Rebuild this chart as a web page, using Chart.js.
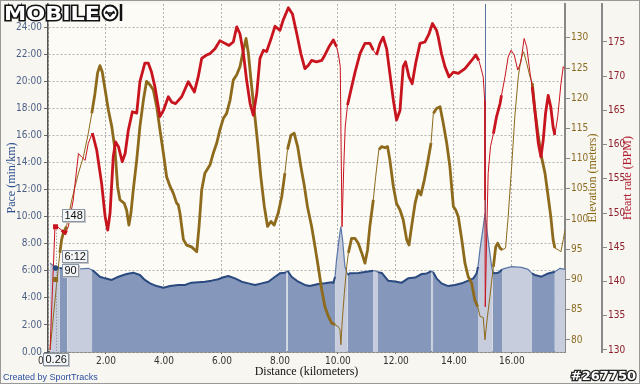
<!DOCTYPE html>
<html>
<head>
<meta charset="utf-8">
<script src="https://cdn.jsdelivr.net/npm/chart.js@4.4.1/dist/chart.umd.min.js"></script>
<style>
html, body { margin: 0; padding: 0; background: #f7f6f1; }
</style>
</head>
<body>
<canvas id="chartRecorrido" width="640" height="384"></canvas>
<script>
// Datos (distancia en km)
const hrKm = [0.07,0.24,0.30,0.47,0.59,0.64,0.70,0.87,1.05,1.16,1.28,1.39,1.53,1.68,1.85,1.97,2.06,2.14,2.25,2.33,2.43,2.56,2.66,2.77,2.91,3.06,3.17,3.34,3.46,3.57,3.69,3.86,3.98,4.15,4.27,4.40,4.61,4.84,5.05,5.18,5.30,5.47,5.59,5.76,5.93,6.10,6.24,6.39,6.51,6.62,6.74,6.85,6.97,7.08,7.20,7.31,7.43,7.54,7.71,7.83,8.00,8.11,8.29,8.43,8.58,8.72,8.86,8.98,9.09,9.26,9.44,9.55,9.69,9.84,9.95,10.01,10.08,10.11,10.14,10.20,10.25,10.33,10.47,10.59,10.76,10.93,11.10,11.22,11.33,11.45,11.56,11.68,11.79,11.91,12.02,12.14,12.25,12.33,12.45,12.56,12.68,12.83,13.00,13.14,13.26,13.40,13.46,13.57,13.69,13.83,13.98,14.15,14.38,14.61,14.75,14.86,14.95,15.01,15.06,15.07,15.08,15.13,15.18,15.26,15.36,15.47,15.59,15.64,15.76,15.87,15.97,16.08,16.20,16.31,16.42,16.51,16.62,16.70,16.79,16.91,17.00,17.08,17.16,17.25,17.34,17.42,17.48,17.58,17.69,17.77,17.83];
const hrBpm = [130,148.0,148.1,147.5,147.0,147.5,148.0,151.9,158.7,158.2,157.7,160.2,161.7,159.2,154.3,149.5,147.5,150.0,158.2,160.4,159.7,157.5,158.7,162.1,164.8,164.6,169.2,171.9,171.9,170.6,168.4,164.1,165.0,167.0,166.2,166.0,167.0,169.2,167.7,169.9,172.6,173.1,173.3,174.0,175.2,174.8,174.5,175.0,177.2,176.2,173.3,169.4,166.0,164.3,167.5,172.6,173.8,173.6,175.7,177.3,176.7,178.2,180.0,179.1,176.2,173.3,171.1,171.6,172.3,172.1,172.3,173.1,174.3,175.3,174.3,173.3,171.4,159.2,148.0,156.8,162.6,165.8,168.4,170.6,173.3,174.8,174.8,173.8,173.1,174.8,175.7,174.0,170.4,166.5,163.6,165.0,171.4,172.1,169.9,168.9,171.9,174.8,175.0,176.2,177.7,176.7,175.7,173.3,171.4,169.9,170.6,170.4,171.1,172.3,173.1,172.3,170.9,169.9,166.5,151.9,136.3,147.0,155.8,159.7,161.6,164.1,166.0,167.2,169.9,172.8,173.8,173.1,170.9,172.1,175.5,174.3,170.6,168.4,165.0,160.2,158.2,160.7,164.6,167.2,165.5,162.6,161.4,164.1,168.9,171.4,171.1];

const eleKm = [0.07,0.30,0.41,0.47,0.53,0.64,0.82,1.05,1.22,1.39,1.51,1.62,1.71,1.79,1.87,1.97,2.08,2.20,2.31,2.40,2.48,2.63,2.71,2.79,2.86,2.94,3.06,3.17,3.29,3.40,3.52,3.63,3.75,3.86,3.98,4.09,4.21,4.32,4.44,4.49,4.55,4.67,4.78,4.95,5.13,5.21,5.30,5.41,5.59,5.70,5.82,5.93,6.05,6.16,6.28,6.39,6.51,6.62,6.74,6.83,6.91,7.00,7.11,7.23,7.34,7.46,7.57,7.69,7.80,7.94,8.06,8.17,8.26,8.38,8.49,8.61,8.72,8.84,8.95,9.09,9.21,9.32,9.44,9.55,9.67,9.78,9.90,10.01,10.07,10.10,10.15,10.22,10.30,10.36,10.47,10.59,10.70,10.82,10.93,11.02,11.10,11.22,11.30,11.41,11.51,11.62,11.71,11.79,11.91,12.02,12.14,12.25,12.37,12.45,12.54,12.66,12.77,12.86,12.98,13.09,13.21,13.29,13.40,13.52,13.63,13.75,13.86,13.98,14.06,14.15,14.27,14.38,14.49,14.61,14.72,14.82,14.90,15.01,15.07,15.13,15.24,15.36,15.44,15.51,15.59,15.67,15.78,15.87,15.99,16.10,16.22,16.31,16.40,16.51,16.62,16.70,16.79,16.91,17.02,17.14,17.25,17.34,17.42,17.48,17.60,17.69,17.77,17.83];
const eleM = [78.3,89.4,94.4,96.6,97.7,98.8,103.2,107.6,110.3,114.2,117.5,120.8,124.2,125.4,124.4,121.4,118.1,115.3,111.5,105.4,103.2,102.6,101.5,99.0,101.0,104.8,109.8,115.3,119.7,122.8,122.2,121.4,118.6,114.8,110.9,107.0,105.4,104.3,102.6,102.4,101.0,96.6,95.7,95.4,94.6,98.8,104.8,107.6,109.0,110.9,112.6,114.8,116.7,117.5,119.7,123.0,123.9,125.2,128.0,129.9,127.5,123.0,118.1,112.6,107.0,102.1,98.8,99.6,99.0,101.0,103.7,107.6,111.5,113.9,114.2,112.0,108.7,105.5,102.0,98.8,95.4,92.1,88.3,85.5,83.9,82.8,82.5,82.2,81.7,79.2,83.3,87.7,92.1,94.4,96.8,96.8,96.0,94.4,92.7,94.9,98.8,103.2,107.0,111.5,112.0,111.8,112.0,109.8,105.4,102.6,101.5,99.9,96.6,95.7,98.8,102.6,104.8,104.0,106.5,109.3,112.6,117.5,118.3,118.6,115.9,112.6,108.7,102.1,101.5,100.4,96.6,92.7,90.5,89.4,86.6,85.5,83.9,83.7,80.0,82.8,87.2,92.1,95.4,96.0,95.2,94.9,95.2,100.4,108.7,117.0,123.6,126.4,127.7,125.8,123.6,122.5,118.1,113.7,110.3,107.6,103.7,100.4,96.6,95.2,94.9,94.6,96.6,98.2];

const paceKm = [0.07,0.24,0.41,0.47,0.66,1.05,1.39,1.52,1.56,1.79,1.97,2.20,2.43,2.71,2.94,3.17,3.34,3.52,3.75,3.98,4.21,4.49,4.72,4.95,5.18,5.41,5.64,5.87,6.05,6.22,6.45,6.68,6.91,7.14,7.37,7.60,7.83,8.00,8.17,8.21,8.26,8.40,8.63,8.86,9.03,9.32,9.55,9.78,9.84,9.90,9.95,10.05,10.10,10.16,10.24,10.34,10.41,10.70,10.99,11.21,11.28,11.38,11.51,11.73,11.97,12.20,12.42,12.66,12.89,13.06,13.23,13.28,13.40,13.57,13.80,14.03,14.27,14.49,14.67,14.78,14.83,14.90,15.01,15.07,15.18,15.30,15.34,15.39,15.53,15.66,15.76,15.99,16.33,16.56,16.69,16.79,17.02,17.25,17.48,17.66,17.83];
const paceMin = [6.55,6.30,6.20,6.18,6.15,6.13,6.18,6.05,6.00,5.56,5.44,5.32,5.56,5.76,5.86,5.69,5.32,5.07,4.87,4.75,4.87,4.95,4.95,5.12,5.15,5.19,5.27,5.37,5.52,5.61,5.44,5.19,5.07,4.95,5.07,5.19,5.56,5.81,5.86,5.90,6.00,5.56,5.19,4.95,4.87,5.02,5.07,5.15,5.10,5.56,6.79,8.52,9.25,8.27,6.30,5.69,5.81,5.84,5.93,6.00,6.00,5.90,5.84,5.27,5.20,5.12,5.44,5.50,5.76,5.80,5.98,5.90,5.44,5.07,4.87,4.95,5.07,5.27,5.44,5.80,6.30,7.60,9.25,10.20,8.27,6.30,5.90,5.81,5.85,6.10,6.18,6.30,6.25,6.10,5.80,5.69,5.56,5.80,5.93,6.18,6.10];

// tramos claros (pausas) en km
const lightBands = [[0, 0.41], [0.66, 1.52], [8.21, 8.26], [9.90, 10.34], [11.21, 11.38], [13.23, 13.28], [14.83, 15.34], [15.66, 16.69], [17.48, 17.83]];

const distTicks = [0, 2, 4, 6, 8, 10, 12, 14, 16];
const paceTicks = [0, 2, 4, 6, 8, 10, 12, 14, 16, 18, 20, 22, 24];
const eleTicks = [80, 85, 90, 95, 100, 105, 110, 115, 120, 125, 130];
const hrTicks = [130, 135, 140, 145, 150, 155, 160, 165, 170, 175];

// punto señalado
const hoverKm = 0.26;
const hoverHr = 148;
const hoverPace = 6.2;
const hoverPaceLabel = "6:12";
const hoverEle = 90;
const cursorKm = 15.07;

const distMax = 17.83;
const paceMax = 25.7;
const eleMin = 78.0, eleMax = 135.6;
const hrMin = 129.7, hrMax = 180.55;

const tickFont = { family: '"Liberation Sans Narrow", "DejaVu Sans Condensed", "Liberation Sans", sans-serif', size: 10 };
const serif = '"Liberation Serif", "DejaVu Serif", serif';
const darkFill = 'rgb(133,151,186)';
const lightFill = 'rgb(199,205,221)';

const pts = (xs, ys) => xs.map((x, i) => ({ x: x, y: ys[i] }));
const inBand = c => {
	const m = (c.p0.parsed.x + c.p1.parsed.x) / 2;
	return lightBands.some(b => m >= b[0] && m <= b[1]);
};
const noPad = s => { s.paddingTop = 0; s.paddingBottom = 0; s.paddingLeft = 0; s.paddingRight = 0; };

const extras = {
	id: 'extras',
	beforeDraw(chart) {
		const { ctx, chartArea: a } = chart;
		ctx.save();
		ctx.fillStyle = '#f7f6f1';
		ctx.fillRect(0, 0, chart.width, chart.height);
		ctx.fillStyle = '#fcfbf6';
		ctx.fillRect(a.left, a.top, a.right - a.left, a.bottom - a.top);
		ctx.restore();
	},
	beforeDatasetsDraw(chart) {
		const { ctx, chartArea: a, scales } = chart;
		const cx = Math.round(scales.x.getPixelForValue(cursorKm)) + 0.5;
		ctx.save();
		ctx.strokeStyle = '#5b74a6';
		ctx.lineWidth = 1;
		ctx.beginPath();
		ctx.moveTo(cx, a.top);
		ctx.lineTo(cx, a.bottom);
		ctx.stroke();
		ctx.restore();
	},
	afterDatasetsDraw(chart) {
		const { ctx, chartArea: a, scales } = chart;
		const hx = scales.x.getPixelForValue(hoverKm);
		const yh = scales.yHr.getPixelForValue(hoverHr);
		const yp = scales.y.getPixelForValue(hoverPace);
		const ye = scales.yEle.getPixelForValue(hoverEle);
		ctx.save();
		ctx.strokeStyle = '#888';
		ctx.lineWidth = 1;
		ctx.setLineDash([1, 2]);
		ctx.beginPath();
		ctx.moveTo(Math.round(hx) + 0.5, yh);
		ctx.lineTo(Math.round(hx) + 0.5, a.bottom);
		ctx.stroke();
		ctx.setLineDash([]);
		// marcadores
		ctx.fillStyle = '#c8141e';
		ctx.fillRect(hx - 2.5, yh - 2.5, 5, 5);
		ctx.fillStyle = '#8d6a1c';
		ctx.fillRect(hx - 2.5, ye - 2.5, 5, 5);
		ctx.fillStyle = '#2a4a7f';
		ctx.beginPath();
		ctx.arc(hx, yp, 2.8, 0, Math.PI * 2);
		ctx.fill();
		// etiquetas
		tagBox(ctx, String(hoverHr), hx + 6, yh - 5, 'left');
		tagBox(ctx, hoverPaceLabel, hx + 6, yp - 5, 'left');
		tagBox(ctx, String(hoverEle), hx + 6, ye - 3, 'left');
		tagBox(ctx, hoverKm.toFixed(2), hx, a.bottom + 14, 'center');
		ctx.restore();
	},
	afterDraw(chart) {
		const { ctx, chartArea: a, scales } = chart;
		ctx.save();
		// títulos de los ejes derechos (leídos de abajo hacia arriba)
		const midY = (a.top + a.bottom) / 2;
		[[scales.yEle, 'Elevation (meters)', '#8b6914', 9], [scales.yHr, 'Heart rate (BPM)', '#b01c2e', 12]].forEach(([s, t, col, off]) => {
			ctx.save();
			ctx.translate(s.right - off, midY);
			ctx.rotate(-Math.PI / 2);
			ctx.font = '12px ' + serif;
			ctx.fillStyle = col;
			ctx.textAlign = 'center';
			ctx.textBaseline = 'middle';
			ctx.fillText(t, 0, 0);
			ctx.restore();
		});
		// créditos
		ctx.font = '9px "Liberation Sans", sans-serif';
		ctx.fillStyle = '#2b4ea0';
		ctx.textAlign = 'left';
		ctx.textBaseline = 'middle';
		ctx.fillText('Created by SportTracks', 3, 378);
		// número de imagen
		ctx.font = 'bold 13px "DejaVu Sans", sans-serif';
		ctx.textAlign = 'right';
		ctx.lineWidth = 2.5;
		ctx.strokeStyle = '#222';
		ctx.strokeText('#267750', 636, 377);
		ctx.fillStyle = '#fff';
		ctx.fillText('#267750', 636, 377);
		// logo
		ctx.font = 'bold 19px "DejaVu Sans", sans-serif';
		ctx.textAlign = 'left';
		ctx.textBaseline = 'alphabetic';
		const w = ctx.measureText('MOBILE').width;
		ctx.save();
		ctx.translate(4, 20);
		ctx.scale(96 / w, 1);
		ctx.lineWidth = 3;
		ctx.strokeStyle = '#111';
		ctx.strokeText('MOBILE', 0, 0);
		ctx.fillStyle = '#fff';
		ctx.fillText('MOBILE', 0, 0);
		ctx.restore();
		ctx.lineWidth = 2;
		ctx.strokeStyle = '#111';
		ctx.fillStyle = '#fff';
		ctx.beginPath();
		ctx.arc(110, 13, 7.5, 0, Math.PI * 2);
		ctx.fill();
		ctx.stroke();
		ctx.lineWidth = 1.5;
		ctx.beginPath();
		ctx.moveTo(106, 11); ctx.lineTo(110, 16); ctx.lineTo(114, 11);
		ctx.moveTo(105, 13); ctx.lineTo(115, 13);
		ctx.stroke();
		ctx.lineWidth = 2.5;
		ctx.beginPath();
		ctx.moveTo(121, 4); ctx.lineTo(121, 21);
		ctx.stroke();
		// borde
		ctx.strokeStyle = '#999';
		ctx.lineWidth = 1;
		ctx.strokeRect(0.5, 0.5, chart.width - 1, chart.height - 1);
		ctx.restore();
	}
};

function tagBox(ctx, text, x, bottom, align) {
	ctx.font = '11px "Liberation Sans", sans-serif';
	const w = Math.round(ctx.measureText(text).width + 5), h = 13;
	const left = Math.round(align === 'center' ? x - w / 2 : x);
	const top = Math.round(bottom - h);
	ctx.fillStyle = '#c4c4c4';
	ctx.fillRect(left + 1, top + 1, w, h);
	ctx.fillStyle = '#f3f5f7';
	ctx.fillRect(left, top, w, h);
	ctx.strokeStyle = '#8a96a6';
	ctx.lineWidth = 1;
	ctx.strokeRect(left + 0.5, top + 0.5, w - 1, h - 1);
	ctx.fillStyle = '#111';
	ctx.textAlign = 'left';
	ctx.textBaseline = 'middle';
	ctx.fillText(text, left + 2.5, top + h / 2 + 0.5);
}

// @ts-expect-error
const chartRecorrido = new Chart(
	document.getElementById('chartRecorrido'),
	{
		type: 'line',
		data: {
			datasets: [{
				label: 'Heart rate',
				data: pts(hrKm, hrBpm),
				yAxisID: 'yHr',
				borderColor: '#c8141e',
				borderWidth: 2.8,
				pointRadius: 0,
				fill: false,
				borderJoinStyle: 'round',
				segment: { borderWidth: c => inBand(c) ? 1 : 2.8 }
			}, {
				label: 'Elevation',
				data: pts(eleKm, eleM),
				yAxisID: 'yEle',
				borderColor: '#8d6a1c',
				borderWidth: 2.8,
				pointRadius: 0,
				fill: false,
				borderJoinStyle: 'round',
				segment: { borderWidth: c => inBand(c) ? 1 : 2.8 }
			}, {
				label: 'Pace',
				data: pts(paceKm, paceMin),
				yAxisID: 'y',
				borderColor: '#2a4a7f',
				borderWidth: 2,
				backgroundColor: darkFill,
				pointRadius: 0,
				fill: 'start',
				borderJoinStyle: 'round',
				segment: {
					backgroundColor: c => inBand(c) ? lightFill : darkFill,
					borderWidth: c => inBand(c) ? 1.2 : 2,
					borderColor: c => inBand(c) ? '#5a76a6' : '#2a4a7f'
				}
			}]
		},
		options: {
			responsive: false,
			animation: false,
			events: [],
			layout: { padding: { top: 4, left: 0, right: 0, bottom: 0 } },
			plugins: {
				legend: { display: false },
				tooltip: { enabled: false }
			},
			scales: {
				x: {
					type: 'linear',
					position: 'bottom',
					min: 0,
					max: distMax,
					afterBuildTicks: s => { s.ticks = distTicks.map(v => ({ value: v })); },
					afterFit: s => { s.height = 32; noPad(s); },
					ticks: { callback: v => v.toFixed(2), color: '#333', font: tickFont, padding: 1, maxRotation: 0, autoSkip: false },
					grid: { color: '#b3b3b3', tickLength: 2, tickColor: '#666' },
					border: { color: '#555', width: 1.5, dash: [2, 2] },
					title: { display: true, text: 'Distance (kilometers)', color: '#111', font: { family: serif, size: 12 }, padding: { top: 0, bottom: 5 } }
				},
				y: {
					position: 'left',
					min: 0,
					max: paceMax,
					afterBuildTicks: s => { s.ticks = paceTicks.map(v => ({ value: v })); },
					afterFit: s => { s.width = 48; noPad(s); },
					ticks: { callback: v => v === 0 ? '0.00' : v + ':00', color: '#4c5f85', font: tickFont, padding: 2 },
					grid: { color: '#b3b3b3', tickLength: 4, tickColor: '#666' },
					border: { color: '#555', width: 1.5, dash: [2, 2] },
					title: { display: true, text: 'Pace (min/km)', color: '#2e4f8e', font: { family: serif, size: 12 }, padding: { top: 5, bottom: 0 } }
				},
				yEle: {
					position: 'right',
					weight: 0,
					min: eleMin,
					max: eleMax,
					afterBuildTicks: s => { s.ticks = eleTicks.map(v => ({ value: v })); },
					afterFit: s => { s.width = 37; noPad(s); },
					ticks: { color: '#8b6b23', font: tickFont, padding: 1 },
					grid: { drawOnChartArea: false, tickLength: 5, tickColor: '#888' },
					border: { color: '#888', width: 2 }
				},
				yHr: {
					position: 'right',
					weight: 1,
					min: hrMin,
					max: hrMax,
					afterBuildTicks: s => { s.ticks = hrTicks.map(v => ({ value: v })); },
					afterFit: s => { s.width = 38; noPad(s); },
					ticks: { color: '#8e1f2c', font: tickFont, padding: 1 },
					grid: { drawOnChartArea: false, tickLength: 5, tickColor: '#888' },
					border: { color: '#888', width: 2 }
				}
			}
		},
		plugins: [extras]
	}
);
</script>
</body>
</html>
